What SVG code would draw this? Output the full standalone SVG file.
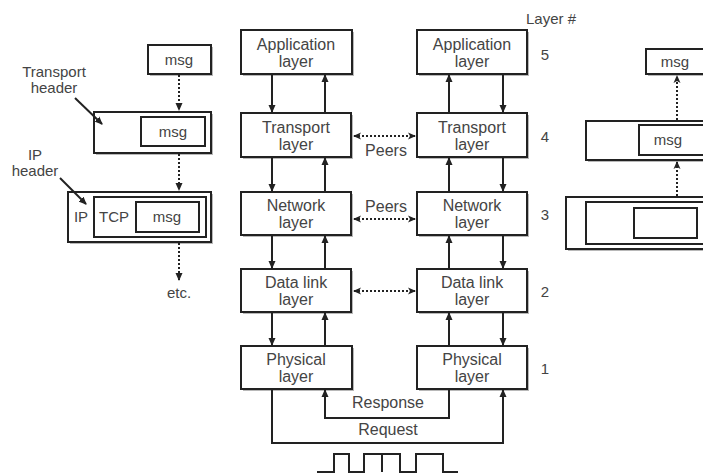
<svg xmlns="http://www.w3.org/2000/svg" width="703" height="474" viewBox="0 0 703 474">
<style>
.box{fill:#fff;stroke:#222;stroke-width:2}
.sh{fill:#b8b8b8}
.t{font-family:"Liberation Sans",Arial,sans-serif;font-size:16px;fill:#444;text-anchor:middle}
.s{font-family:"Liberation Sans",Arial,sans-serif;font-size:15px;fill:#444;text-anchor:middle}
.ln{fill:none;stroke:#222;stroke-width:2}
.dot{fill:none;stroke:#222;stroke-width:2;stroke-dasharray:2 2}
</style>
<defs>
<marker id="ah" markerWidth="8" markerHeight="8" refX="7" refY="4" orient="auto" markerUnits="userSpaceOnUse">
<path d="M0,0.5 L8,4 L0,7.5 Z" fill="#222"/>
</marker>
<marker id="ahs" markerWidth="8" markerHeight="8" refX="7" refY="4" orient="auto-start-reverse" markerUnits="userSpaceOnUse">
<path d="M0,0.5 L8,4 L0,7.5 L2,4 Z" fill="#222"/>
</marker>
</defs>
<rect width="703" height="474" fill="#fff"/>

<g id="app-left"><rect class="sh" x="243" y="32" width="111" height="44"/><rect class="box" x="241" y="30" width="111" height="44"/><text class="t" x="296" y="50">Application</text><text class="t" x="296" y="67">layer</text></g>
<g id="transport-left"><rect class="sh" x="243" y="115" width="110" height="44"/><rect class="box" x="241" y="113" width="110" height="44"/><text class="t" x="296" y="133">Transport</text><text class="t" x="296" y="150">layer</text></g>
<g id="network-left"><rect class="sh" x="243" y="194" width="110" height="43"/><rect class="box" x="241" y="192" width="110" height="43"/><text class="t" x="296" y="211">Network</text><text class="t" x="296" y="228">layer</text></g>
<g id="datalink-left"><rect class="sh" x="243" y="271" width="110" height="43"/><rect class="box" x="241" y="269" width="110" height="43"/><text class="t" x="296" y="288">Data link</text><text class="t" x="296" y="305">layer</text></g>
<g id="physical-left"><rect class="sh" x="243" y="348" width="111" height="43"/><rect class="box" x="241" y="346" width="111" height="43"/><text class="t" x="296" y="365">Physical</text><text class="t" x="296" y="382">layer</text></g>

<g id="app-right"><rect class="sh" x="419" y="32" width="110" height="44"/><rect class="box" x="417" y="30" width="110" height="44"/><text class="t" x="472" y="50">Application</text><text class="t" x="472" y="67">layer</text></g>
<g id="transport-right"><rect class="sh" x="419" y="115" width="110" height="44"/><rect class="box" x="417" y="113" width="110" height="44"/><text class="t" x="472" y="133">Transport</text><text class="t" x="472" y="150">layer</text></g>
<g id="network-right"><rect class="sh" x="419" y="194" width="110" height="43"/><rect class="box" x="417" y="192" width="110" height="43"/><text class="t" x="472" y="211">Network</text><text class="t" x="472" y="228">layer</text></g>
<g id="datalink-right"><rect class="sh" x="419" y="271" width="110" height="43"/><rect class="box" x="417" y="269" width="110" height="43"/><text class="t" x="472" y="288">Data link</text><text class="t" x="472" y="305">layer</text></g>
<g id="physical-right"><rect class="sh" x="419" y="348" width="110" height="43"/><rect class="box" x="417" y="346" width="110" height="43"/><text class="t" x="472" y="365">Physical</text><text class="t" x="472" y="382">layer</text></g>

<g id="layer-numbers">
<text class="s" x="551" y="24">Layer #</text>
<text class="s" x="545" y="60">5</text>
<text class="s" x="545" y="142">4</text>
<text class="s" x="545" y="220">3</text>
<text class="s" x="545" y="297">2</text>
<text class="s" x="545" y="374">1</text>
</g>

<g id="left-msg"><rect class="sh" x="150" y="47" width="63" height="29"/><rect class="box" x="148" y="45" width="63" height="29"/><text class="s" x="179" y="65">msg</text></g>
<g id="left-transport"><rect class="sh" x="96" y="114" width="117" height="41"/><rect class="box" x="94" y="112" width="117" height="41"/><rect class="box" x="141" y="117" width="64" height="29"/><text class="s" x="173" y="137">msg</text></g>
<g id="left-ip"><rect class="sh" x="70" y="194" width="143" height="50"/><rect class="box" x="68" y="192" width="143" height="50"/><rect class="box" x="94" y="197" width="112" height="40"/><rect class="box" x="136" y="202" width="63" height="30"/><text class="s" x="81" y="222">IP</text><text class="s" x="114" y="222">TCP</text><text class="s" x="167" y="222">msg</text></g>
<g id="left-labels">
<text class="s" x="54" y="77">Transport</text><text class="s" x="54" y="93">header</text>
<text class="s" x="35" y="160">IP</text><text class="s" x="35" y="176">header</text>
<text class="s" x="179" y="298">etc.</text>
</g>

<g id="right-msg"><rect class="sh" x="648" y="51" width="60" height="25"/><rect class="box" x="646" y="49" width="62" height="25"/><text class="s" x="675" y="67">msg</text></g>
<g id="right-transport"><rect class="sh" x="588" y="123" width="120" height="39"/><rect class="box" x="586" y="121" width="122" height="39"/><rect class="box" x="639" y="125" width="66" height="30"/><text class="s" x="668" y="145">msg</text></g>
<g id="right-ip"><rect class="sh" x="568" y="199" width="140" height="52"/><rect class="box" x="566" y="197" width="142" height="52"/><rect class="box" x="586" y="202" width="118" height="42"/><rect class="box" x="634" y="208" width="63" height="30"/></g>

<g id="connectors">
<path class="ln" d="M272,74 V112" marker-end="url(#ah)"/>
<path class="ln" d="M325,113 V75" marker-end="url(#ah)"/>
<path class="ln" d="M272,157 V191" marker-end="url(#ah)"/>
<path class="ln" d="M325,192 V158" marker-end="url(#ah)"/>
<path class="ln" d="M272,235 V268" marker-end="url(#ah)"/>
<path class="ln" d="M325,269 V236" marker-end="url(#ah)"/>
<path class="ln" d="M272,312 V345" marker-end="url(#ah)"/>
<path class="ln" d="M325,346 V313" marker-end="url(#ah)"/>

<path class="ln" d="M449,113 V75" marker-end="url(#ah)"/>
<path class="ln" d="M503,74 V112" marker-end="url(#ah)"/>
<path class="ln" d="M449,192 V158" marker-end="url(#ah)"/>
<path class="ln" d="M503,157 V191" marker-end="url(#ah)"/>
<path class="ln" d="M449,269 V236" marker-end="url(#ah)"/>
<path class="ln" d="M503,235 V268" marker-end="url(#ah)"/>
<path class="ln" d="M449,346 V313" marker-end="url(#ah)"/>
<path class="ln" d="M503,312 V345" marker-end="url(#ah)"/>

<path class="ln" d="M449,389 V418 H325 V390" marker-end="url(#ah)"/>
<path class="ln" d="M272,389 V443 H503 V390" marker-end="url(#ah)"/>
<text class="t" x="388" y="408">Response</text>
<text class="t" x="388" y="435">Request</text>

<path class="dot" d="M354,136 H415" marker-start="url(#ahs)" marker-end="url(#ahs)"/>
<text class="t" x="386" y="156">Peers</text>
<path class="dot" d="M354,219 H415" marker-start="url(#ahs)" marker-end="url(#ahs)"/>
<text class="t" x="386" y="212">Peers</text>
<path class="dot" d="M354,291 H415" marker-start="url(#ahs)" marker-end="url(#ahs)"/>

<path class="ln" d="M317,472 H334 V454 H349 V472 H364 V454 H382 V472 V454 H400 V472 H416 V454 H443 V472 H458"/>

<path class="dot" d="M179,75 V110" marker-end="url(#ah)"/>
<path class="dot" d="M179,154 V190" marker-end="url(#ah)"/>
<path class="dot" d="M179,243 V280" marker-end="url(#ah)"/>
<path class="ln" d="M75,98 L102,124" marker-end="url(#ah)"/>
<path class="ln" d="M60,178 L86,204" marker-end="url(#ah)"/>

<path class="dot" d="M677,120 V76" marker-end="url(#ahs)"/>
<path class="dot" d="M677,196 V162" marker-end="url(#ahs)"/>
</g>
</svg>
